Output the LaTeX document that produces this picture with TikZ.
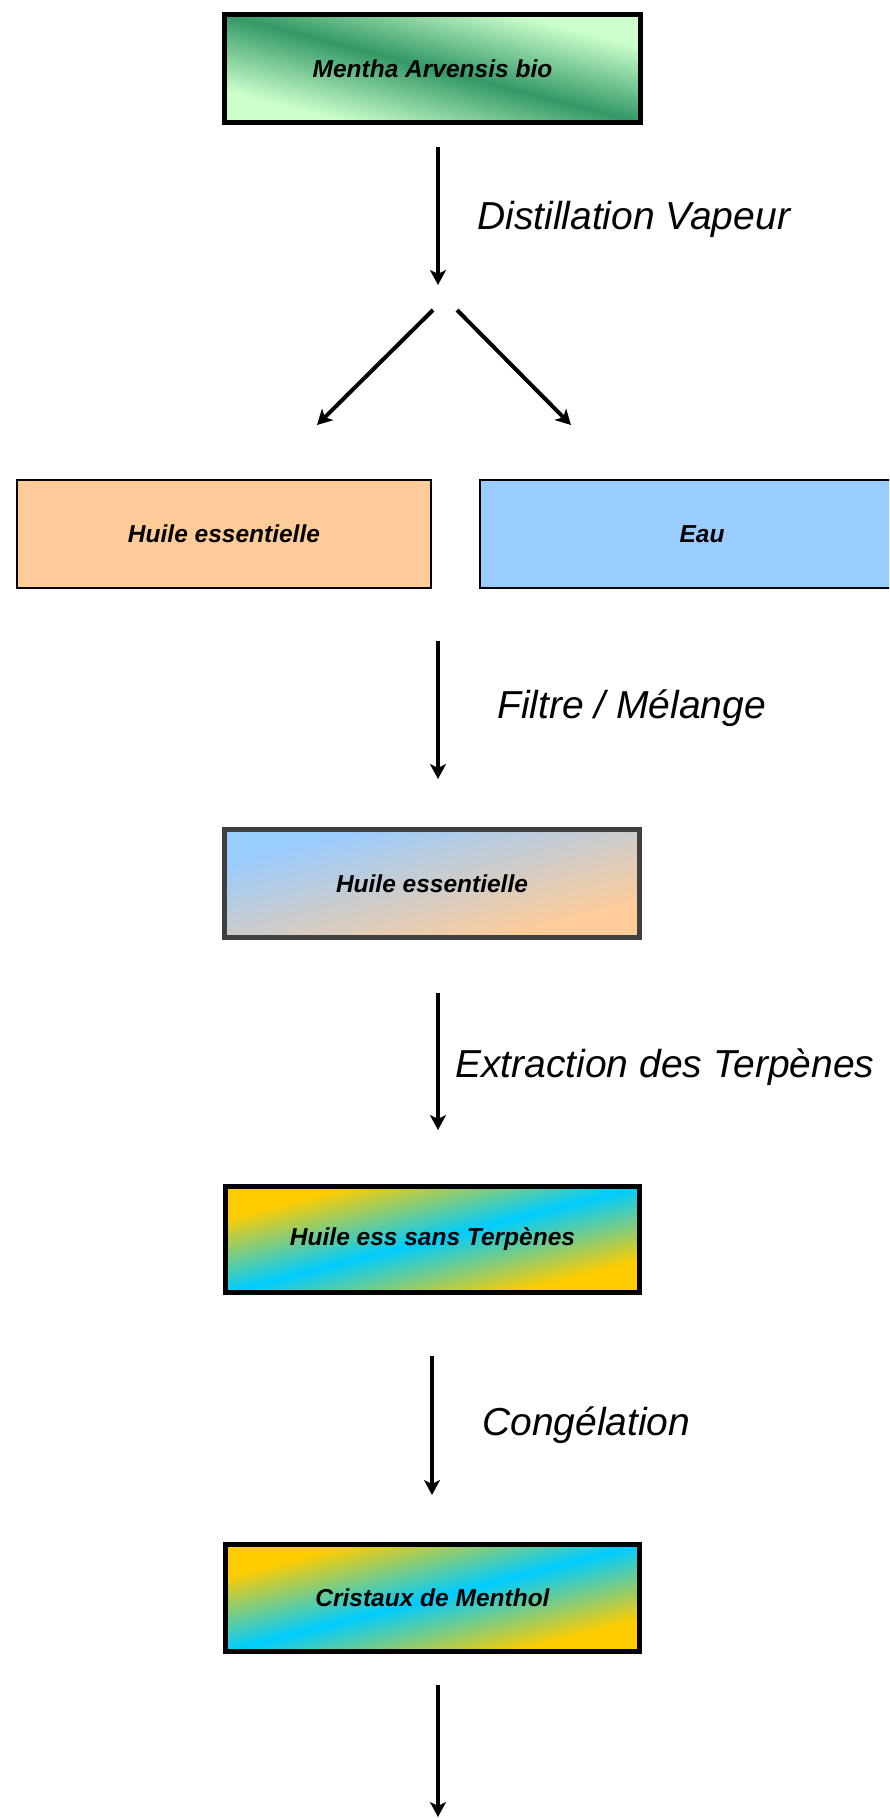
\documentclass[tikz,border=0pt]{standalone}
\usepackage{fontspec}
\setmainfont{Liberation Sans}
\usetikzlibrary{arrows.meta}
\definecolor{gdark}{HTML}{339966}
\definecolor{glight}{HTML}{CCFFCC}
\definecolor{oblue}{HTML}{99CCFF}
\definecolor{oorange}{HTML}{FFCC99}
\definecolor{ogold}{HTML}{FFCC00}
\definecolor{ocyan}{HTML}{00CCFF}
\definecolor{bgray}{HTML}{404040}
\tikzset{
  boxtext/.style={font=\bfseries\itshape\fontsize{24.5}{24.5}\selectfont, inner sep=0pt, align=center},
  bigbox/.style={boxtext, draw=black, line width=5pt, minimum width=416pt, minimum height=108pt},
  flatbox/.style={boxtext, draw=black, line width=2pt, minimum height=108pt},
  lbl/.style={font=\itshape\fontsize{39}{39}\selectfont, inner sep=0pt, anchor=base west},
  arr/.style={line width=4pt, -{Stealth[length=15pt, width=16pt, inset=4pt]}},
  greenshade/.style={top color=glight, bottom color=glight, middle color=gdark, shading angle=-45},
  blueorange/.style={top color=oblue, bottom color=oorange, shading angle=45},
  goldcyan/.style={top color=ogold, bottom color=ogold, middle color=ocyan, shading angle=45},
}
\begin{document}
\begin{tikzpicture}[x=1pt, y=-1pt]
\useasboundingbox (0,0) rectangle (889,1818);
\clip (0,0) rectangle (889,1818);
% gradient fills (square shading stretched to the box, so bands follow the diagonal)
\begin{scope}[transform canvas={shift={(432.5,68.5)}, xscale=3.852}]
  \fill[greenshade] (-54,-54) rectangle (54,54);
\end{scope}
\begin{scope}[transform canvas={shift={(432,883.5)}, xscale=3.843}]
  \fill[blueorange] (-54,-54) rectangle (54,54);
\end{scope}
\begin{scope}[transform canvas={shift={(432.5,1239.5)}, xscale=3.906}]
  \fill[goldcyan] (-53,-53) rectangle (53,53);
\end{scope}
\begin{scope}[transform canvas={shift={(432.5,1598)}, xscale=3.869}]
  \fill[goldcyan] (-53.5,-53.5) rectangle (53.5,53.5);
\end{scope}
% boxes
\node[bigbox] (b1) at (432.5,68.5) {Mentha Arvensis bio};
\node[flatbox, fill=oorange, minimum width=414pt] (b2) at (224,534) {Huile essentielle};
\node[flatbox, fill=oblue, minimum width=444pt] (b3) at (702,534) {Eau};
\node[bigbox, draw=bgray, minimum width=415pt] (b4) at (432,883.5) {Huile essentielle};
\node[bigbox, minimum width=414pt, minimum height=106pt] (b5) at (432.5,1239.5) {Huile ess sans Terpènes};
\node[bigbox, minimum width=414pt, minimum height=107pt] (b6) at (432.5,1598) {Cristaux de Menthol};
% arrow end points
\coordinate (a1s) at (438,147); \coordinate (a1e) at (438,285);
\coordinate (dls) at (433,310); \coordinate (dle) at (317,425);
\coordinate (drs) at (457,310); \coordinate (dre) at (571,425);
\coordinate (a2s) at (438,641); \coordinate (a2e) at (438,779);
\coordinate (a3s) at (438,993); \coordinate (a3e) at (438,1130);
\coordinate (a4s) at (432,1356); \coordinate (a4e) at (432,1495);
\coordinate (a5s) at (438,1685); \coordinate (a5e) at (438,1817);
\draw[arr] (a1s) -- (a1e);
\draw[arr] (dls) -- (dle);
\draw[arr] (drs) -- (dre);
\draw[arr] (a2s) -- (a2e);
\draw[arr] (a3s) -- (a3e);
\draw[arr] (a4s) -- (a4e);
\draw[arr] (a5s) -- (a5e);
% labels
\node[lbl] (l1) at (477,229) {Distillation Vapeur};
\node[lbl] (l2) at (497,718) {Filtre / Mélange};
\node[lbl] (l3) at (455,1077) {Extraction des Terpènes};
\node[lbl] (l4) at (482,1435) {Congélation};
\end{tikzpicture}
\end{document}
